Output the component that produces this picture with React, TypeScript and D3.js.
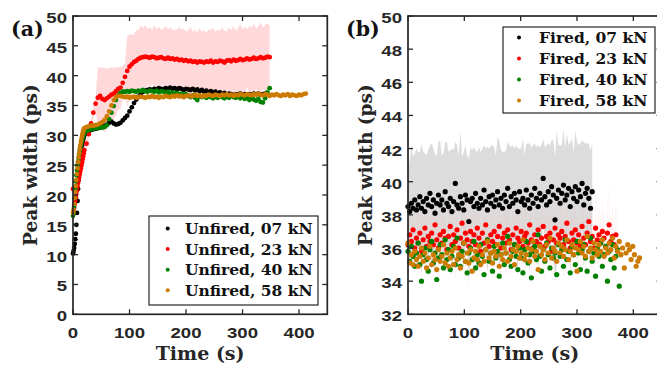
import React from "react";
import * as d3 from "d3";

// ---------- Panel (a): Unfired (first 20 samples at 1 s, then every 4 s) ----------
const unf07 = [
  10.2, 10.6, 11.1, 11.8, 12.6, 13.5, 15.0, 17.0, 19.0, 21.0, 22.5, 24.0, 25.2, 26.2, 27.0, 27.7, 28.3, 28.8, 29.3, 29.7,
  30.0, 30.4, 30.7, 30.9, 31.0, 31.1, 31.2, 31.3, 31.4, 31.6, 31.8, 32.1,
  32.3, 32.0, 31.8, 31.9, 32.1, 32.5, 32.9, 33.3, 34.0, 34.7, 35.4, 36.0, 36.5, 37.0, 37.3,
  37.5, 37.6, 37.7, 37.6, 37.8, 37.7, 37.9, 37.8, 37.7, 37.9,
  37.8, 38.0, 37.8, 37.9, 37.7, 37.9, 37.8, 37.6, 37.8, 37.7,
  37.6, 37.8, 37.5, 37.7, 37.4, 37.6, 37.3, 37.5, 37.2, 37.4,
  37.1, 37.3, 37.0, 37.2, 36.9, 37.1, 36.8, 37.0, 36.9, 36.7,
  36.9, 36.8, 37.0, 36.8, 36.9, 36.7, 36.9, 36.8, 37.0, 36.9,
  37.0, 36.8, 36.9, 37.0,
];
const unf23 = [
  21.0, 17.2, 17.8, 18.5, 19.0, 19.6, 20.2, 20.8, 21.4, 22.0, 22.5, 23.0, 23.5, 24.0, 24.5, 25.0, 25.5, 26.0, 26.5, 27.0,
  27.5, 28.6, 30.2, 32.0, 33.8, 35.3,
  36.3, 36.6, 36.1, 35.9, 36.2, 36.5, 36.8, 37.0, 37.4, 37.8, 38.0, 38.8, 39.8,
  40.8, 41.5, 41.9, 42.3, 42.5, 42.8, 43.0, 43.1, 43.2, 43.1,
  43.0, 43.2, 43.1, 42.9, 43.0, 43.1, 42.9, 42.8, 43.0, 42.8,
  42.9, 42.7, 42.8, 42.6, 42.7, 42.5, 42.6, 42.4, 42.5, 42.3,
  42.4, 42.2, 42.4, 42.3, 42.2, 42.4, 42.3, 42.5, 42.2, 42.4,
  42.3, 42.5, 42.4, 42.2, 42.5, 42.6, 42.4, 42.7, 42.5, 42.6,
  42.8, 42.6, 42.7, 42.9, 42.7, 42.8, 43.0, 42.8, 42.9, 43.1,
  42.9, 43.0, 43.2, 43.1,
];
const unf23Err = [
  0.8, 1.5, 1.6, 1.5, 1.4, 1.6, 1.5, 1.7, 1.5, 1.6, 1.4, 1.5, 1.6, 1.5, 1.4, 1.6, 1.5, 1.4, 1.3, 1.2,
  1.0, 0.9, 0.8, 0.8, 0.9, 1.0,
  5.2, 4.7, 5.3, 5.4, 5.0, 4.8, 4.6, 4.3, 4.0, 3.6, 3.5, 2.8, 2.2,
  6.0, 5.4, 5.0, 4.6, 5.2, 4.8, 5.5, 4.9, 5.3, 4.7,
  5.1, 4.5, 5.4, 4.9, 5.2, 4.6, 5.0, 5.5, 4.8, 5.3,
  4.7, 5.1, 4.9, 5.6, 5.0, 5.4, 4.8, 5.2, 5.7, 5.0,
  5.3, 4.9, 5.6, 5.1, 5.4, 4.8, 5.5, 5.2, 5.8, 5.0,
  5.4, 5.1, 5.7, 5.3, 4.9, 5.5, 5.2, 5.6, 5.0, 5.4,
  5.8, 5.2, 5.5, 4.9, 5.6, 5.3, 5.7, 5.1, 5.4, 5.8,
  5.2, 5.5, 5.6, 5.3,
];
const unf40 = [
  16.5, 17.0, 18.0, 19.5, 21.0, 22.3, 23.3, 24.2, 25.0, 25.6, 26.2, 26.8, 27.4, 27.9, 28.4, 28.8, 29.2, 29.6, 29.9, 30.2,
  30.4, 30.7, 30.9, 31.0, 31.1, 31.2, 31.2, 31.3, 31.3, 31.4, 31.7,
  32.7, 33.8, 34.9, 35.9, 36.7, 37.1, 37.3, 37.3,
  37.4, 37.3, 37.5, 37.4, 37.3, 37.5, 37.4, 37.6, 37.4, 37.3,
  37.5, 37.4, 37.3, 37.5, 37.2, 37.4, 37.3, 37.1, 37.3, 37.0,
  37.2, 36.9, 37.1, 36.8, 37.0, 36.7, 36.9, 36.6, 36.4, 36.7,
  36.3, 35.9, 36.5, 36.4, 36.6, 36.3, 36.5, 36.4, 36.2, 36.5,
  36.3, 36.6, 36.4, 36.2, 36.5, 36.3, 36.6, 36.4, 36.3, 36.5,
  36.2, 36.4, 36.1, 36.3, 35.9, 36.2, 36.0, 35.8, 36.1, 35.6,
  35.5, 36.2, 37.2, 37.9,
];
const unf58 = [
  17.0, 17.5, 18.5, 19.5, 20.5, 21.5, 22.5, 23.5, 24.5, 25.5, 26.3, 27.0, 27.7, 28.3, 28.9, 29.4, 29.9, 30.3, 30.7, 31.0,
  31.2, 31.4, 31.5, 31.6, 31.6, 31.7, 31.8,
  32.0, 32.2, 32.6, 33.2, 34.0, 35.0, 35.9, 36.4, 36.6, 36.6, 36.5,
  36.4, 36.5, 36.3, 36.4, 36.5, 36.3, 36.4, 36.5, 36.4, 36.3,
  36.5, 36.4, 36.6, 36.4, 36.5, 36.3, 36.5, 36.4, 36.6, 36.5,
  36.4, 36.6, 36.5, 36.7, 36.5, 36.6, 36.4, 36.6, 36.7, 36.5,
  36.6, 36.8, 36.6, 36.7, 36.5, 36.7, 36.6, 36.8, 36.7, 36.6,
  36.8, 36.7, 36.6, 36.8, 36.7, 36.9, 36.7, 36.8, 36.6, 36.8,
  36.7, 36.9, 36.8, 36.7, 36.9, 36.8, 36.7, 36.9, 36.8, 37.0,
  36.8, 36.7, 36.9, 36.8, 36.6, 36.8, 36.7, 36.9, 36.7, 36.6,
  36.8, 36.7, 36.9, 36.6, 36.8, 36.7, 36.6, 36.8, 36.7, 36.9,
  37.0,
];

// ---------- Panel (b): Fired (every 3 s) ----------
const fir07 = [
  38.5, 38.2, 38.7, 38.4, 38.9, 38.3, 38.6, 39.1, 38.4, 38.8,
  38.2, 39.0, 38.6, 39.3, 38.5, 38.9, 38.1, 38.7, 39.2, 38.6,
  38.9, 38.3, 39.4, 38.7, 38.5, 39.0, 38.2, 38.8, 39.9, 38.6,
  38.4, 39.1, 38.7, 38.3, 39.2, 38.9, 37.6, 38.8, 39.0, 38.5,
  39.3, 38.7, 38.4, 39.0, 38.6, 39.5, 38.8, 38.3, 39.1, 38.7,
  39.2, 38.5, 38.9, 39.4, 38.6, 39.0, 38.4, 39.2, 38.8, 39.6,
  38.5, 39.1, 38.7, 39.3, 38.9, 38.2, 39.4, 38.8, 39.0, 38.6,
  39.5, 38.9, 38.4, 39.2, 38.7, 39.6, 39.0, 38.5, 39.3, 38.9,
  40.2, 39.1, 38.6, 39.4, 38.8, 39.7, 39.2, 37.7, 39.0, 39.5,
  38.7, 39.3, 39.8, 38.9, 39.2, 39.6, 38.5, 39.4, 39.0, 39.7,
  38.8, 39.5, 39.1, 39.9, 38.6, 39.3, 39.6, 39.0, 38.4, 39.4,
];
const fir07Err = [
  3.4, 2.9, 3.6, 3.1, 2.8, 3.7, 3.2, 2.7, 3.9, 3.0,
  3.5, 2.6, 3.3, 2.9, 3.8, 3.1, 3.6, 2.8, 3.2, 3.9,
  2.7, 3.4, 3.0, 3.7, 3.3, 2.9, 3.8, 3.1, 2.5, 3.6,
  3.2, 3.9, 2.8, 3.5, 3.0, 2.7, 3.8, 3.3, 2.9, 3.6,
  2.6, 3.1, 3.7, 2.8, 3.4, 2.7, 3.2, 3.8, 2.9, 3.5,
  3.0, 3.6, 2.7, 3.3, 3.9, 2.9, 3.4, 2.6, 3.1, 2.8,
  3.7, 3.0, 3.5, 2.7, 3.3, 3.8, 2.6, 3.2, 3.6, 3.0,
  2.8, 3.4, 3.9, 2.9, 3.5, 2.7, 3.1, 3.7, 2.8, 3.3,
  2.4, 3.0, 3.6, 2.9, 3.4, 2.8, 3.3, 3.8, 4.1, 2.7,
  3.5, 2.9, 3.4, 3.1, 3.7, 2.6, 3.9, 3.2, 2.8, 3.4,
  3.6, 2.7, 3.2, 2.6, 3.8, 3.0, 2.7, 3.3, 3.5, 2.9,
];
const fir23 = [
  36.2, 36.8, 36.4, 37.1, 36.0, 36.6, 36.3, 36.9, 35.8, 36.5,
  37.2, 36.1, 36.7, 36.4, 36.9, 36.2, 37.4, 36.5, 36.0, 36.8,
  36.3, 37.0, 36.6, 35.9, 36.7, 37.3, 36.2, 36.8, 36.4, 37.1,
  36.0, 36.6, 37.5, 36.3, 36.9, 36.5, 36.1, 37.0, 36.4, 36.8,
  36.2, 37.2, 36.6, 35.8, 36.9, 36.3, 37.4, 36.5, 36.1, 36.8,
  36.4, 37.0, 36.2, 36.7, 37.3, 36.0, 36.6, 36.9, 36.3, 37.1,
  36.5, 35.9, 36.8, 36.2, 37.2, 36.6, 36.4, 37.0, 36.1, 36.7,
  36.9, 36.3, 37.4, 36.5, 36.0, 36.8, 36.4, 37.1, 36.2, 36.6,
  37.3, 36.1, 36.7, 36.4, 36.9, 35.8, 36.5, 37.2, 36.3, 36.8,
  36.6, 37.0, 36.2, 36.7, 37.5, 36.4, 36.0, 36.9, 36.5, 37.1,
  36.3, 36.8, 36.1, 37.3, 36.6, 36.2, 36.9, 37.6, 36.4, 36.7,
  36.0, 37.2, 36.5, 36.8, 36.3, 37.0, 36.6, 36.1, 36.9, 37.4,
  36.4, 36.7, 36.2, 36.8,
];
const fir23Err = [
  1.6, 1.9, 1.4, 2.1, 1.7, 1.5, 2.0, 1.3, 1.8, 1.6,
  2.2, 1.5, 1.9, 1.4, 1.7, 2.0, 1.6, 1.3, 1.8, 2.1,
  1.5, 1.7, 1.9, 1.4, 2.0, 1.6, 1.8, 1.3, 2.2, 1.5,
  1.7, 1.9, 1.4, 1.6, 2.1, 1.8, 1.5, 2.0, 1.3, 1.7,
  1.9, 1.6, 2.2, 1.4, 1.8, 1.5, 2.0, 1.7, 1.3, 1.9,
  1.6, 2.1, 1.5, 1.8, 1.4, 2.0, 1.7, 1.6, 1.9, 1.3,
  2.2, 1.5, 1.8, 1.7, 2.0, 1.4, 1.6, 1.9, 1.5, 2.1,
  1.8, 1.3, 1.7, 2.0, 1.6, 1.9, 1.4, 2.2, 1.5, 1.8,
  1.7, 2.0, 1.6, 1.3, 1.9, 1.5, 2.1, 1.8, 1.4, 1.7,
  2.0, 1.6, 1.9, 1.5, 2.2, 1.3, 1.8, 1.7, 2.0, 1.4,
  1.6, 1.9, 1.5, 2.1, 1.8, 1.7, 1.3, 2.0, 1.6, 1.9,
  1.4, 2.2, 1.5, 1.8, 1.7, 2.0, 1.6, 1.3, 1.9, 2.1,
  1.5, 1.8, 1.6, 1.7,
];
const fir40 = [
  35.8, 35.2, 36.1, 35.5, 34.9, 35.7, 36.3, 35.0, 34.0, 35.6,
  36.0, 35.3, 34.6, 35.9, 36.4, 35.1, 35.7, 34.1, 35.4, 36.2,
  35.6, 34.8, 36.5, 35.3, 35.9, 34.7, 35.5, 36.1, 35.0, 36.6,
  35.4, 34.9, 35.8, 36.3, 35.2, 34.5, 35.7, 36.0, 35.3, 36.4,
  34.8, 35.6, 35.1, 36.2, 35.5, 34.4, 35.9, 36.5, 35.2, 35.7,
  34.6, 36.1, 35.4, 35.8, 34.3, 35.6, 36.3, 35.0, 35.7, 36.7,
  35.3, 34.9, 35.8, 36.2, 35.5, 34.7, 36.0, 35.4, 34.5, 35.9,
  36.4, 35.1, 35.6, 34.2, 35.8, 36.1, 35.3, 36.8, 35.5, 34.6,
  35.9, 35.2, 36.3, 35.6, 34.8, 36.0, 35.4, 35.7, 34.4, 36.2,
  35.5, 35.9, 34.9, 36.5, 35.3, 35.8, 34.5, 36.1, 35.6, 35.0,
  36.4, 35.7, 34.7, 35.9, 36.2, 35.4, 34.6, 35.8, 36.6, 35.2,
  35.7, 34.3, 36.0, 35.5, 36.3, 34.9, 35.6, 36.1, 34.0, 35.8,
  35.3, 36.2, 34.8, 35.5, 35.9, 33.7,
];
const fir58 = [
  36.3, 35.1, 35.6, 35.0, 35.8, 35.3, 34.9, 35.5, 36.0, 35.2,
  35.7, 34.8, 35.4, 36.1, 35.0, 35.6, 35.3, 34.7, 35.9, 35.2,
  35.5, 36.2, 35.1, 35.7, 34.9, 35.4, 35.8, 35.0, 36.0, 35.3,
  35.6, 34.8, 35.5, 36.3, 35.2, 35.7, 35.1, 35.9, 34.6, 35.4,
  35.8, 35.3, 36.1, 35.0, 35.6, 35.2, 35.9, 36.4, 35.4, 35.7,
  35.1, 35.8, 35.5, 36.2, 34.9, 35.6, 35.3, 36.0, 35.7, 35.2,
  36.3, 35.5, 35.9, 35.0, 35.8, 36.1, 35.4, 35.7, 36.5, 35.3,
  35.6, 36.0, 35.2, 35.9, 36.4, 35.5, 35.8, 34.7, 36.1, 35.6,
  35.9, 35.3, 36.2, 35.7, 36.6, 35.4, 36.0, 35.8, 35.2, 36.3,
  35.7, 36.1, 35.5, 35.9, 36.5, 35.3, 35.8, 36.2, 35.6, 36.0,
  34.6, 35.9, 36.4, 35.7, 36.1, 35.5, 36.7, 35.8, 36.0, 35.4,
  36.3, 35.9, 35.6, 36.2, 35.8, 36.5, 35.5, 36.0, 35.7, 36.3,
  35.9, 36.6, 35.4, 36.1, 35.8, 36.4, 35.6, 36.0, 34.8, 35.7,
  36.2, 35.9, 35.3, 36.1, 35.6, 34.9, 35.2, 35.4,
];

const xTicks = [0, 100, 200, 300, 400];
const yTicksA = [0, 5, 10, 15, 20, 25, 30, 35, 40, 45, 50];
const yTicksB = [32, 34, 36, 38, 40, 42, 44, 46, 48, 50];
const legendA = ["Unfired, 07 kN", "Unfired, 23 kN", "Unfired, 40 kN", "Unfired, 58 kN"];
const legendB = ["Fired, 07 kN", "Fired, 23 kN", "Fired, 40 kN", "Fired, 58 kN"];

// sampling: panel (a) 1 s for first 20 samples then 4 s; panel (b) 3 s
const timeA = (i: number) => (i < 20 ? i : 20 + (i - 20) * 4);
const timeB = (i: number) => i * 3;

const COLORS = ["#000000", "#ff0000", "#008000", "#cc7a00"];
const AXIS = "#262626";
const TICK_FONT = "'Liberation Sans', Arial, sans-serif";
const SERIF = "'DejaVu Serif', serif";
const TICK_SIZE = 15.5;
const TICK_STRETCH = 1.2;

type Scale = d3.ScaleLinear<number, number>;

function TickText({ x, y, anchor, children }: any) {
  return (
    <text
      transform={`translate(${x},${y}) scale(${TICK_STRETCH},1)`}
      textAnchor={anchor}
      fontFamily={TICK_FONT}
      fontWeight="bold"
      fontSize={TICK_SIZE}
      fill={AXIS}
    >
      {children}
    </text>
  );
}

function Axes({ x, y, yTicks, label, panel }: { x: Scale; y: Scale; yTicks: number[]; label: string; panel: string }) {
  const [x0, x1] = x.range();
  const [y0, y1] = y.range();
  const tl = 5;
  return (
    <g>
      {xTicks.map((t) => (
        <g key={"x" + t}>
          <line x1={x(t)} x2={x(t)} y1={y0} y2={y0 - tl} stroke={AXIS} strokeWidth={1.3} />
          <line x1={x(t)} x2={x(t)} y1={y1} y2={y1 + tl} stroke={AXIS} strokeWidth={1.3} />
          <TickText x={x(t)} y={337.5} anchor="middle">
            {t}
          </TickText>
        </g>
      ))}
      {yTicks.map((t) => (
        <g key={"y" + t}>
          <line x1={x0} x2={x0 + tl} y1={y(t)} y2={y(t)} stroke={AXIS} strokeWidth={1.3} />
          <line x1={x1} x2={x1 - tl} y1={y(t)} y2={y(t)} stroke={AXIS} strokeWidth={1.3} />
          <TickText x={x0 - 6} y={y(t) + 7} anchor="end">
            {t}
          </TickText>
        </g>
      ))}
      <rect x={x0} y={y1} width={x1 - x0} height={y0 - y1} fill="none" stroke={AXIS} strokeWidth={1.7} />
      <text x={(x0 + x1) / 2} y={360} textAnchor="middle" fontFamily={SERIF} fontWeight="bold" fontSize={19} fill={AXIS}>
        Time (s)
      </text>
      <text
        transform={`translate(${x0 - 36},${(y0 + y1) / 2}) rotate(-90)`}
        textAnchor="middle"
        fontFamily={SERIF}
        fontWeight="bold"
        fontSize={18.5}
        fill={AXIS}
      >
        {label}
      </text>
      <text x={x0 - 62} y={36} fontFamily={SERIF} fontWeight="bold" fontSize={20.5} fill="#111">
        {panel}
      </text>
    </g>
  );
}

function Legend({ x, y, w, h, items, rowH, textX, markX, first }: any) {
  return (
    <g>
      <rect x={x} y={y} width={w} height={h} fill="#fff" stroke={AXIS} strokeWidth={1.2} />
      {items.map((s: string, i: number) => (
        <g key={s}>
          <circle cx={markX} cy={first + i * rowH - 5.5} r={2} fill={COLORS[i]} />
          <text x={textX} y={first + i * rowH} fontFamily={SERIF} fontWeight="bold" fontSize={15.5} fill="#111">
            {s}
          </text>
        </g>
      ))}
    </g>
  );
}

export default function App() {
  const xA = d3.scaleLinear().domain([0, 450]).range([73, 327.3]);
  const yA = d3.scaleLinear().domain([0, 50]).range([314.3, 16]);
  const xB = d3.scaleLinear().domain([0, 450]).range([408, 661.5]);
  const yB = d3.scaleLinear().domain([32, 50]).range([314.3, 16]);

  const seriesA = [unf07, unf23, unf40, unf58];
  const seriesB = [fir07, fir23, fir40, fir58];

  const bandA = d3
    .area<number>()
    .x((_, i) => xA(timeA(i)))
    .y0((v, i) => yA(v - unf23Err[i]))
    .y1((v, i) => yA(v + unf23Err[i]));
  const bandB = d3
    .area<number>()
    .x((_, i) => xB(timeB(i)))
    .y0((v, i) => yB(v - fir07Err[i]))
    .y1((v, i) => yB(v + fir07Err[i]));

  return (
    <svg width={657} height={365} style={{ position: "fixed", left: 0, top: 0, background: "#fff" }}>
      <rect width={657} height={365} fill="#fff" />
      {/* panel (a) spread of the 23 kN series */}
      <path d={bandA(unf23) || ""} fill="#ffd9d9" />
      {seriesA.map((s, k) => (
        <g key={k} fill={COLORS[k]}>
          {s.map((v, i) => (
            <circle key={i} cx={xA(timeA(i))} cy={yA(v)} r={2.4} />
          ))}
        </g>
      ))}
      <Axes x={xA} y={yA} yTicks={yTicksA} label="Peak width (ps)" panel="(a)" />
      <Legend x={149} y={216} w={169} h={89} items={legendA} rowH={20.6} first={234} textX={185} markX={167.7} />

      {/* panel (b) spread of the 07 kN and 23 kN series */}
      <path d={bandB(fir07) || ""} fill="#dcdcdc" />
      <g>
        {fir23.map((v, i) => (
          <line
            key={"r" + i}
            x1={xB(timeB(i))}
            x2={xB(timeB(i))}
            y1={yB(v + fir23Err[i])}
            y2={yB(v - fir23Err[i])}
            stroke="#ffb0b0"
            strokeOpacity={0.18}
            strokeWidth={1}
          />
        ))}
      </g>
      {seriesB.map((s, k) => (
        <g key={k} fill={COLORS[k]}>
          {s.map((v, i) => (
            <circle key={i} cx={xB(timeB(i))} cy={yB(v)} r={2.6} />
          ))}
        </g>
      ))}
      <Axes x={xB} y={yB} yTicks={yTicksB} label="Peak width (ps)" panel="(b)" />
      <Legend x={503} y={27} w={152} h={86} items={legendB} rowH={21} first={43} textX={539} markX={519} />
    </svg>
  );
}
